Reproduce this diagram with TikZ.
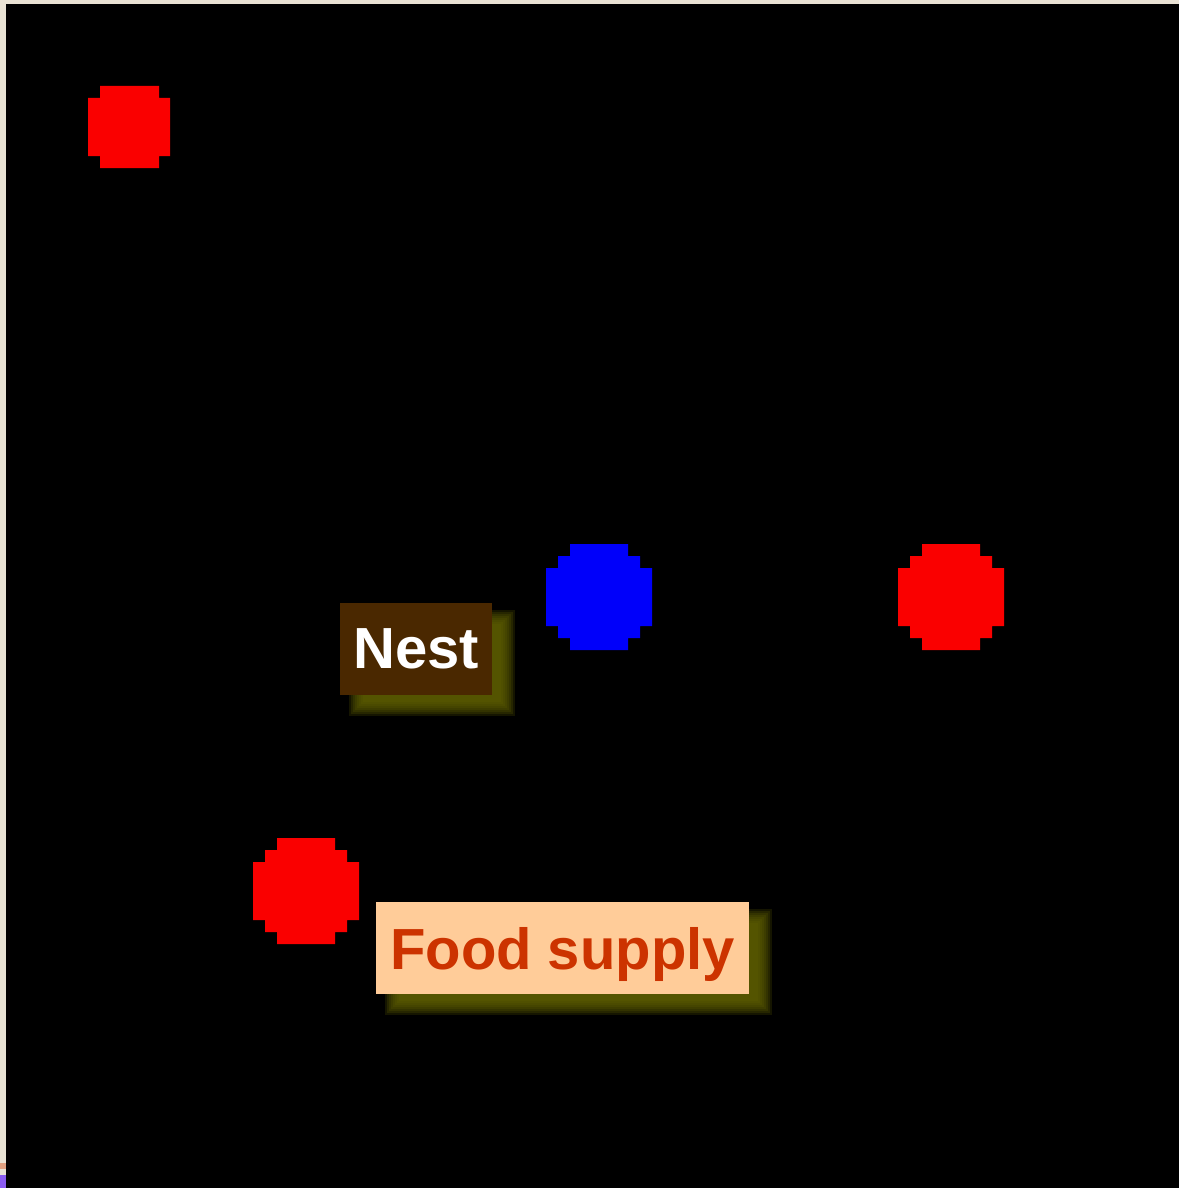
\documentclass[tikz,border=0pt]{standalone}
\usepackage{fontspec}
\setmainfont{Liberation Sans}
\usetikzlibrary{backgrounds}
\definecolor{paper}{RGB}{233,226,212}
\definecolor{dotred}{RGB}{250,0,0}
\definecolor{dotblue}{RGB}{0,0,250}
\definecolor{nestbrown}{RGB}{74,40,0}
\definecolor{foodbg}{RGB}{255,204,153}
\definecolor{foodtext}{RGB}{204,51,0}
\definecolor{shadowolive}{RGB}{100,100,0}
\definecolor{edgeorange}{RGB}{224,160,128}
\definecolor{edgepurple}{RGB}{138,92,240}
\tikzset{
  px/.style={x=0.5pt,y=-0.5pt},
  labelbox/.style={inner sep=0pt, font=\bfseries\fontsize{29}{34}\selectfont},
  nestbox/.style={labelbox, fill=nestbrown, text=white, minimum width=76pt, minimum height=46pt},
  foodbox/.style={labelbox, fill=foodbg, text=foodtext, minimum width=186.5pt, minimum height=46pt, text depth=0pt},
  shadowlayer/.style={fill=shadowolive, fill opacity=0.22},
}
% soft shadow behind node #1, offset (16,14)px
\newcommand{\softshadow}[1]{%
  \begin{pgfonlayer}{background}
  \foreach \r in {7,5,...,-7}{
    \fill[shadowlayer] ([shift={(16-\r,14-\r)}]#1.north west) rectangle ([shift={(16+\r,14+\r)}]#1.south east);
  }
  \end{pgfonlayer}}
% big pixel dot: 106x106 with 12px steps, top-left corner at (#1,#2)
\newcommand{\bigdot}[3]{%
  \fill[#3, shift={(#1,#2)}] (24,0)--(82,0)--(82,12)--(94,12)--(94,24)--(106,24)--(106,82)--(94,82)--(94,94)--(82,94)--(82,106)--(24,106)--(24,94)--(12,94)--(12,82)--(0,82)--(0,24)--(12,24)--(12,12)--(24,12)--cycle;}
\newcommand{\smalldot}[3]{%
  \fill[#3, shift={(#1,#2)}] (12,0)--(71,0)--(71,12)--(82,12)--(82,70)--(71,70)--(71,82)--(12,82)--(12,70)--(0,70)--(0,12)--(12,12)--cycle;}
\begin{document}
\begin{tikzpicture}[px]
\useasboundingbox (0,0) rectangle (1179,1188);
\begin{pgfonlayer}{background}
\fill[paper] (0,0) rectangle (1179,1188);
\fill[black] (6,4) rectangle (1179,1188);
\fill[edgeorange] (0,1163) rectangle (6,1169);
\fill[edgepurple] (0,1175) rectangle (6,1188);
\end{pgfonlayer}
\smalldot{88}{86}{dotred}
\bigdot{546}{544}{dotblue}
\bigdot{898}{544}{dotred}
\bigdot{253}{838}{dotred}
\node[nestbox] (nest) at (416,649) {\raisebox{-1pt}{Nest}};
\node[foodbox] (food) at (562.5,948) {Food supply};
\softshadow{nest}
\softshadow{food}
\end{tikzpicture}
\end{document}
